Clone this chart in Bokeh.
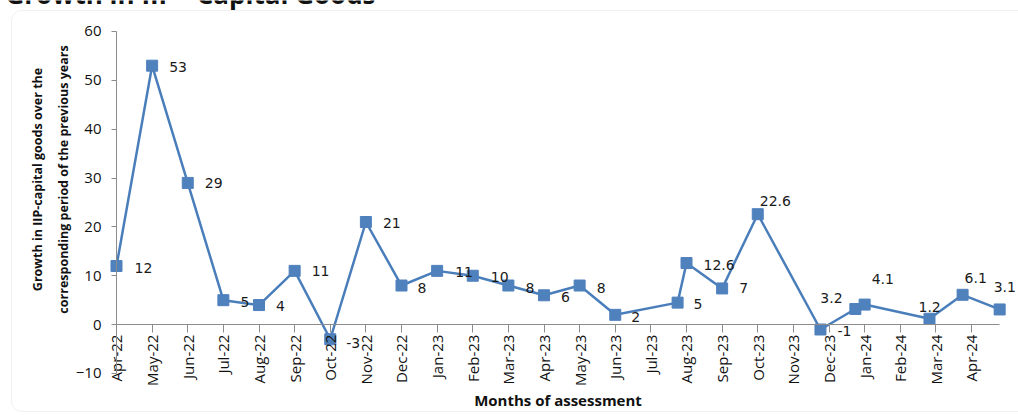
import math
from bokeh.plotting import figure
from bokeh.models import Range1d, FixedTicker, ColumnDataSource, Label, BoxAnnotation
from bokeh.core.properties import value
from bokeh.embed import file_html
from bokeh.resources import INLINE

# ---------------- data ----------------
months = ["Apr-22", "May-22", "Jun-22", "Jul-22", "Aug-22", "Sep-22", "Oct-22",
          "Nov-22", "Dec-22", "Jan-23", "Feb-23", "Mar-23", "Apr-23", "May-23",
          "Jun-23", "Jul-23", "Aug-23", "Sep-23", "Oct-23", "Nov-23", "Dec-23",
          "Jan-24", "Feb-24", "Mar-24", "Apr-24"]
# position of each observation on the month axis (0 = Apr-22)
point_month = [0, 1, 2, 3, 4, 5, 6, 7, 8, 9, 10, 11, 12, 13, 14, 15.75, 16, 17,
               18, 19.76, 20.74, 21, 22.82, 23.75, 24.79]
growth = [12, 53, 29, 5, 4, 11, -3, 21, 8, 11, 10, 8, 6, 8, 2, 4.5, 12.6, 7.4,
          22.6, -1, 3.2, 4.1, 1.2, 6.1, 3.1]
value_labels = ["12", "53", "29", "5", "4", "11", "-3", "21", "8", "11", "10",
                "8", "6", "8", "2", "5", "12.6", "7", "22.6", "-1", "3.2", "4.1",
                "1.2", "6.1", "3.1"]
y_ticks = [-10, 0, 10, 20, 30, 40, 50, 60]

# label placement (pixels relative to the marker)
label_dx = [18, 17, 17, 17, 17, 17, 16, 17, 16, 18, 18, 17, 17, 17, 16, 16, 17,
            17, 2, 17, -35, 7, -11, 2, -6]
label_dy = [2, 1, 0, 2, 1, 0, 4, 1, 2, 1, 1, 2, 2, 2, 2, 1, 2, 0, -13, 2, -11,
            -26, -12, -17, -22]

BLUE = "#4A7EBB"
TICK_FONT = "Open Sans"

src = ColumnDataSource(dict(x=point_month, y=growth, lab=value_labels,
                            dx=label_dx, dy=label_dy))

# the frame fills the whole canvas; axes are pinned at zero and bounded
p = figure(width=1018, height=415, output_backend="svg", toolbar_location=None,
           x_range=Range1d(-3.2561, 25.319), y_range=Range1d(-18.605, 66.34),
           min_border_left=0, min_border_right=0, min_border_top=0,
           min_border_bottom=0)
p.outline_line_color = None
p.xgrid.visible = False
p.ygrid.visible = False

# rounded chart-area border
p.add_layout(BoxAnnotation(left=-2.947, right=26.5, top=64.29, bottom=-17.79,
                           fill_alpha=0, line_color="#cccccc", line_width=1,
                           border_radius=10, level="underlay"))

# slide title, mostly above the visible area
p.add_layout(Label(x=-3.116, y=65.62, y_offset=10, text="Growth in IIP - Capital Goods",
                   text_align="left", text_baseline="alphabetic",
                   text_font=TICK_FONT, text_font_style="bold",
                   text_font_size="26px", text_color="#111111"))

# x axis crossing at zero
xa = p.xaxis[0]
xa.fixed_location = 0
xa.bounds = (0, point_month[-1])
xa.ticker = FixedTicker(ticks=list(range(len(months))))
xa.major_label_overrides = {i: m for i, m in enumerate(months)}
xa.major_label_orientation = math.pi / 2
xa.major_tick_in = 0
xa.major_tick_out = 8
xa.minor_tick_out = 0
xa.minor_tick_in = 0
xa.major_label_standoff = 2
xa.axis_line_color = "#8c8c8c"
xa.major_tick_line_color = "#8c8c8c"
xa.major_label_text_font = TICK_FONT
xa.major_label_text_font_size = "15px"
xa.major_label_text_color = "#111111"
xa.axis_label = "Months of assessment"
xa.axis_label_text_font = TICK_FONT
xa.axis_label_text_font_style = "bold"
xa.axis_label_text_font_size = "15px"
xa.axis_label_text_color = "#111111"
xa.axis_label_standoff = 1

ya = p.yaxis[0]
ya.fixed_location = 0
ya.bounds = (-10, 60)
ya.ticker = FixedTicker(ticks=y_ticks)
ya.major_tick_in = 0
ya.major_tick_out = 5
ya.minor_tick_out = 0
ya.minor_tick_in = 0
ya.major_label_standoff = 10
ya.axis_line_color = "#8c8c8c"
ya.major_tick_line_color = "#8c8c8c"
ya.major_label_text_font = TICK_FONT
ya.major_label_text_font_size = "15px"
ya.major_label_text_color = "#111111"

p.line("x", "y", source=src, line_color=BLUE, line_width=2.5)
p.scatter("x", "y", source=src, marker="square", size=11,
          fill_color="#4F81BD", line_color="#4F81BD")
p.text("x", "y", text="lab", x_offset="dx", y_offset="dy", source=src,
       text_font=value("DejaVu Sans"), text_font_size=value("14px"),
       text_align="left", text_baseline="middle", text_color="#1a1a1a")

ytitle = ["Growth in IIP-capital goods over the",
          "corresponding period of the previous years"]
for line_txt, off in zip(ytitle, [-79, -53]):
    p.add_layout(Label(x=0, y=29.7, x_offset=off, text=line_txt, angle=math.pi / 2,
                       text_align="center", text_baseline="middle",
                       text_font=TICK_FONT, text_font_style="bold",
                       text_font_size="12.5px", text_color="#111111"))

open("out.html", "w").write(file_html(p, INLINE))
